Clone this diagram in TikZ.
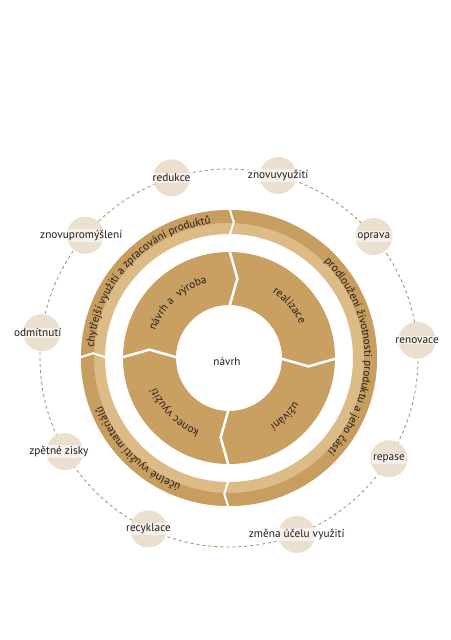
\documentclass[tikz,border=0pt]{standalone}
\usepackage{fontspec}
\setmainfont{PT Sans}
\usetikzlibrary{decorations.text}
\definecolor{segcol}{HTML}{C9A062}
\definecolor{ringdark}{HTML}{C79E60}
\definecolor{ringlight}{HTML}{DCBB87}
\definecolor{satcol}{HTML}{EBDFCF}
\definecolor{dashcol}{HTML}{B08A55}
\definecolor{textcol}{HTML}{231F20}
\newcommand\segfont{\fontsize{11.2}{13}\selectfont\color{textcol}}
\newcommand\ringfont{\fontsize{11.2}{13}\selectfont\color{textcol}}
\newcommand\arctxt[5]{%
  \path[decorate, decoration={text along path, text align=center, text={|#4|#5}}]
    ({#1+#3}:#2) arc[start angle={#1+#3}, end angle={#1-#3}, radius=#2];}
\tikzset{
  sat/.style={circle, fill=satcol, minimum size=37pt, inner sep=0pt},
  satlabel/.style={fill=white, fill opacity=0.55, text opacity=1, inner sep=1pt,
    font=\fontsize{11.3}{13}\selectfont, text=textcol},
  seaminner/.style={white, line width=2.5pt, line join=miter},
  seamouter/.style={white, line width=2pt, line join=miter},
  dashring/.style={dashcol, line width=0.8pt, dash pattern=on 3pt off 3pt},
}
\begin{document}
\begin{tikzpicture}[x=1pt,y=1pt]
\useasboundingbox (-229,-282) rectangle (221,358);
\fill[white] (-229,-282) rectangle (221,358);
\coordinate (c) at (0,0);
% dashed orbit
\draw[dashring] (c) circle (189);
% satellites
\node[sat] (s1) at (107.7:189) {};
\node[sat] (s2) at (74.9:189) {};
\node[sat] (s3) at (40:189) {};
\node[sat] (s4) at (5.4:189) {};
\node[sat] (s5) at (-32.2:189) {};
\node[sat] (s6) at (-69:189) {};
\node[sat] (s7) at (-115.2:189) {};
\node[sat] (s8) at (-150.3:189) {};
\node[sat] (s9) at (172.3:189) {};
\node[sat] (s10) at (139.5:189) {};
\node[satlabel] (l1) at (s1) {redukce};
\node[satlabel] (l2) at (s2) {znovuvyužití};
\node[satlabel] (l3) at (s3) {oprava};
\node[satlabel] (l4) at (s4) {renovace};
\node[satlabel] (l5) at (s5) {repase};
\node[satlabel] (l6) at (s6) {změna účelu využití};
\node[satlabel] (l7) at (s7) {recyklace};
\node[satlabel] (l8) at ([xshift=-6pt]s8) {zpětné zisky};
\node[satlabel] (l9) at ([xshift=-4pt]s9) {odmítnutí};
\node[satlabel] (l10) at ([xshift=-4pt]s10) {znovupromýšlení};
% outer ring
\fill[ringlight, even odd rule] (c) circle (148) (c) circle (124);
\fill[ringdark, even odd rule] (c) circle (148) (c) circle (135);
\foreach \a in {90,180,270} \draw[seamouter] (\a:121) -- ({\a-2}:136) -- (\a:151);
% inner ring
\fill[segcol, even odd rule] (c) circle (106) (c) circle (53);
\foreach \a in {90,0,-90,180} \draw[seaminner] (\a:50) -- ({\a-6}:80) -- (\a:109);
% center
\node[font=\fontsize{11.2}{13}\selectfont, text=textcol] (mid) at (-2,-4) {návrh};
% inner labels
\arctxt{133}{78.5}{60}{\segfont}{návrh a { }výroba}
\arctxt{41}{78.5}{50}{\segfont}{realizace}
\arctxt{-46}{78.5}{50}{\segfont}{užívání}
\arctxt{-135}{78.5}{60}{\segfont}{konec využití}
% outer labels
\arctxt{136.5}{135.5}{60}{\ringfont}{chytřejší využití a zpracování produktů}
\arctxt{1}{135.5}{80}{\ringfont}{prodloužení životnosti produktu a jeho části}
\arctxt{-135}{135.5}{60}{\ringfont}{účelné využití materiálů}
\end{tikzpicture}
\end{document}
